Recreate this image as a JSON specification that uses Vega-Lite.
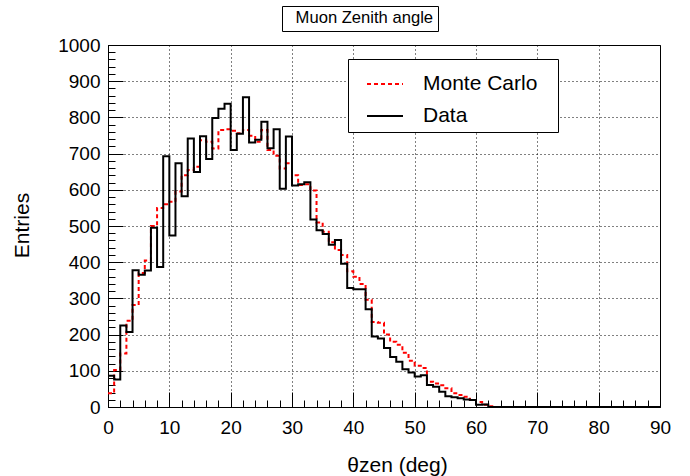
{
  "$schema": "https://vega.github.io/schema/vega-lite/v6.json",
  "width": 552,
  "height": 362,
  "autosize": {"type": "none"},
  "padding": {"left": 108, "top": 45, "right": 30, "bottom": 69},
  "background": "white",
  "config": {"view": {"stroke": "black", "strokeWidth": 1}, "font": "Liberation Sans"},
  "layer": [
    {
      "data": {"values": [
        {"lo": 0, "Monte Carlo": 38, "Data": 86},
        {"lo": 1, "Monte Carlo": 102, "Data": 76},
        {"lo": 2, "Monte Carlo": 148, "Data": 225},
        {"lo": 3, "Monte Carlo": 238, "Data": 207},
        {"lo": 4, "Monte Carlo": 282, "Data": 378},
        {"lo": 5, "Monte Carlo": 370, "Data": 365},
        {"lo": 6, "Monte Carlo": 405, "Data": 377},
        {"lo": 7, "Monte Carlo": 500, "Data": 495},
        {"lo": 8, "Monte Carlo": 550, "Data": 387},
        {"lo": 9, "Monte Carlo": 560, "Data": 693},
        {"lo": 10, "Monte Carlo": 567, "Data": 474},
        {"lo": 11, "Monte Carlo": 595, "Data": 673},
        {"lo": 12, "Monte Carlo": 640, "Data": 582},
        {"lo": 13, "Monte Carlo": 655, "Data": 742},
        {"lo": 14, "Monte Carlo": 664, "Data": 649},
        {"lo": 15, "Monte Carlo": 737, "Data": 748},
        {"lo": 16, "Monte Carlo": 733, "Data": 685},
        {"lo": 17, "Monte Carlo": 714, "Data": 798},
        {"lo": 18, "Monte Carlo": 765, "Data": 824},
        {"lo": 19, "Monte Carlo": 767, "Data": 838},
        {"lo": 20, "Monte Carlo": 763, "Data": 710},
        {"lo": 21, "Monte Carlo": 756, "Data": 755},
        {"lo": 22, "Monte Carlo": 765, "Data": 856},
        {"lo": 23, "Monte Carlo": 749, "Data": 731},
        {"lo": 24, "Monte Carlo": 733, "Data": 738},
        {"lo": 25, "Monte Carlo": 765, "Data": 788},
        {"lo": 26, "Monte Carlo": 710, "Data": 715},
        {"lo": 27, "Monte Carlo": 694, "Data": 767},
        {"lo": 28, "Monte Carlo": 659, "Data": 603},
        {"lo": 29, "Monte Carlo": 673, "Data": 747},
        {"lo": 30, "Monte Carlo": 640, "Data": 612},
        {"lo": 31, "Monte Carlo": 613, "Data": 615},
        {"lo": 32, "Monte Carlo": 615, "Data": 621},
        {"lo": 33, "Monte Carlo": 598, "Data": 518},
        {"lo": 34, "Monte Carlo": 510, "Data": 488},
        {"lo": 35, "Monte Carlo": 484, "Data": 478},
        {"lo": 36, "Monte Carlo": 455, "Data": 448},
        {"lo": 37, "Monte Carlo": 434, "Data": 461},
        {"lo": 38, "Monte Carlo": 420, "Data": 396},
        {"lo": 39, "Monte Carlo": 375, "Data": 329},
        {"lo": 40, "Monte Carlo": 360, "Data": 325},
        {"lo": 41, "Monte Carlo": 340, "Data": 325},
        {"lo": 42, "Monte Carlo": 296, "Data": 270},
        {"lo": 43, "Monte Carlo": 235, "Data": 195},
        {"lo": 44, "Monte Carlo": 233, "Data": 189},
        {"lo": 45, "Monte Carlo": 200, "Data": 163},
        {"lo": 46, "Monte Carlo": 180, "Data": 138},
        {"lo": 47, "Monte Carlo": 172, "Data": 125},
        {"lo": 48, "Monte Carlo": 150, "Data": 104},
        {"lo": 49, "Monte Carlo": 128, "Data": 95},
        {"lo": 50, "Monte Carlo": 114, "Data": 84},
        {"lo": 51, "Monte Carlo": 108, "Data": 88},
        {"lo": 52, "Monte Carlo": 70, "Data": 61},
        {"lo": 53, "Monte Carlo": 65, "Data": 56},
        {"lo": 54, "Monte Carlo": 60, "Data": 42},
        {"lo": 55, "Monte Carlo": 52, "Data": 30},
        {"lo": 56, "Monte Carlo": 38, "Data": 27},
        {"lo": 57, "Monte Carlo": 33, "Data": 24},
        {"lo": 58, "Monte Carlo": 28, "Data": 21},
        {"lo": 59, "Monte Carlo": 19, "Data": 19},
        {"lo": 60, "Monte Carlo": 14, "Data": 6},
        {"lo": 61, "Monte Carlo": 6, "Data": 7},
        {"lo": 62, "Monte Carlo": 2, "Data": 0},
        {"lo": 63, "Monte Carlo": 0, "Data": 0},
        {"lo": 64, "Monte Carlo": 0, "Data": 0},
        {"lo": 65, "Monte Carlo": 0, "Data": 0},
        {"lo": 66, "Monte Carlo": 0, "Data": 0},
        {"lo": 67, "Monte Carlo": 0, "Data": 0},
        {"lo": 68, "Monte Carlo": 0, "Data": 0},
        {"lo": 69, "Monte Carlo": 0, "Data": 0},
        {"lo": 70, "Monte Carlo": 0, "Data": 0},
        {"lo": 71, "Monte Carlo": 0, "Data": 0},
        {"lo": 72, "Monte Carlo": 0, "Data": 0},
        {"lo": 73, "Monte Carlo": 0, "Data": 0},
        {"lo": 74, "Monte Carlo": 0, "Data": 0},
        {"lo": 75, "Monte Carlo": 0, "Data": 0},
        {"lo": 76, "Monte Carlo": 0, "Data": 0},
        {"lo": 77, "Monte Carlo": 0, "Data": 0},
        {"lo": 78, "Monte Carlo": 0, "Data": 0},
        {"lo": 79, "Monte Carlo": 0, "Data": 0},
        {"lo": 80, "Monte Carlo": 0, "Data": 0},
        {"lo": 81, "Monte Carlo": 0, "Data": 0},
        {"lo": 82, "Monte Carlo": 0, "Data": 0},
        {"lo": 83, "Monte Carlo": 0, "Data": 0},
        {"lo": 84, "Monte Carlo": 0, "Data": 0},
        {"lo": 85, "Monte Carlo": 0, "Data": 0},
        {"lo": 86, "Monte Carlo": 0, "Data": 0},
        {"lo": 87, "Monte Carlo": 0, "Data": 0},
        {"lo": 88, "Monte Carlo": 0, "Data": 0},
        {"lo": 89, "Monte Carlo": 0, "Data": 0},
        {"lo": 90, "Monte Carlo": 0, "Data": 0}
      ]},
      "transform": [{"fold": ["Monte Carlo", "Data"], "as": ["series", "entries"]}],
      "mark": {"type": "line", "interpolate": "step-after", "strokeWidth": 2},
      "encoding": {
        "x": {
          "field": "lo", "type": "quantitative",
          "scale": {"domain": [0, 90], "nice": false, "zero": false},
          "axis": {
            "values": [0,2,4,6,8,10,12,14,16,18,20,22,24,26,28,30,32,34,36,38,40,42,44,46,48,50,52,54,56,58,60,62,64,66,68,70,72,74,76,78,80,82,84,86,88,90],
            "labelExpr": "datum.value % 10 === 0 ? '' + datum.value : ''",
            "tickSize": {"condition": {"test": "datum.value % 10 === 0", "value": -15}, "value": -7},
            "tickColor": "black", "tickWidth": 1,
            "domainColor": "black", "domainWidth": 1,
            "grid": true, "gridColor": "black", "gridWidth": 1, "gridDash": [1, 3],
            "gridOpacity": {"condition": {"test": "datum.value % 10 === 0", "value": 1}, "value": 0},
            "labelFont": "Liberation Sans", "labelFontSize": 19, "labelColor": "black",
            "labelPadding": 26, "labelFlush": false, "labelOverlap": false,
            "title": "θzen (deg)", "titleFont": "Liberation Sans", "titleFontSize": 21,
            "titleFontWeight": "normal", "titleColor": "black",
            "titleX": 289, "titleY": 64, "titleBaseline": "alphabetic"
          }
        },
        "y": {
          "field": "entries", "type": "quantitative",
          "scale": {"domain": [0, 1000], "nice": false},
          "axis": {
            "values": [0,20,40,60,80,100,120,140,160,180,200,220,240,260,280,300,320,340,360,380,400,420,440,460,480,500,520,540,560,580,600,620,640,660,680,700,720,740,760,780,800,820,840,860,880,900,920,940,960,980,1000],
            "labelExpr": "datum.value % 100 === 0 ? '' + datum.value : ''",
            "tickSize": {"condition": {"test": "datum.value % 100 === 0", "value": -15}, "value": -7},
            "tickColor": "black", "tickWidth": 1,
            "domainColor": "black", "domainWidth": 1,
            "grid": true, "gridColor": "black", "gridWidth": 1, "gridDash": [1, 3],
            "gridOpacity": {"condition": {"test": "datum.value % 100 === 0", "value": 1}, "value": 0},
            "labelFont": "Liberation Sans", "labelFontSize": 19, "labelColor": "black",
            "labelPadding": 23, "labelFlush": false, "labelOverlap": false,
            "title": "Entries", "titleFont": "Liberation Sans", "titleFontSize": 21,
            "titleFontWeight": "normal", "titleColor": "black",
            "titleX": -86, "titleY": 180, "titleBaseline": "middle", "titleAngle": 270
          }
        },
        "color": {
          "field": "series", "type": "nominal",
          "scale": {"domain": ["Monte Carlo", "Data"], "range": ["#ff0000", "#000000"]},
          "legend": {
            "title": " ", "titleOrient": "right", "titlePadding": 15,
            "orient": "none", "legendX": 240, "legendY": 14,
            "strokeColor": "black", "fillColor": "white", "padding": 6,
            "symbolType": "stroke", "symbolSize": 1296, "symbolStrokeWidth": 2, "symbolOffset": 12,
            "labelFont": "Liberation Sans", "labelFontSize": 21, "labelColor": "black",
            "labelOffset": 19, "rowPadding": 3
          }
        },
        "strokeDash": {
          "field": "series", "type": "nominal",
          "scale": {"domain": ["Monte Carlo", "Data"], "range": [[4, 3], [1, 0]]},
          "legend": {
            "title": " ", "titleOrient": "right", "titlePadding": 15,
            "orient": "none", "legendX": 240, "legendY": 14,
            "strokeColor": "black", "fillColor": "white", "padding": 6,
            "symbolType": "stroke", "symbolSize": 1296, "symbolStrokeWidth": 2, "symbolOffset": 12,
            "labelFont": "Liberation Sans", "labelFontSize": 21, "labelColor": "black",
            "labelOffset": 19, "rowPadding": 3
          }
        }
      }
    },
    {
      "data": {"values": [{"t": "Muon Zenith angle"}]},
      "mark": {"type": "point", "opacity": 0},
      "encoding": {
        "shape": {
          "field": "t", "type": "nominal",
          "legend": {
            "title": null, "orient": "none", "legendX": 174, "legendY": -39,
            "strokeColor": "black", "fillColor": "white", "padding": 4,
            "symbolSize": 0, "symbolOpacity": 0, "symbolStrokeWidth": 0,
            "labelFont": "Liberation Sans", "labelFontSize": 16.6, "labelColor": "black",
            "labelOffset": -7
          }
        }
      }
    }
  ]
}
